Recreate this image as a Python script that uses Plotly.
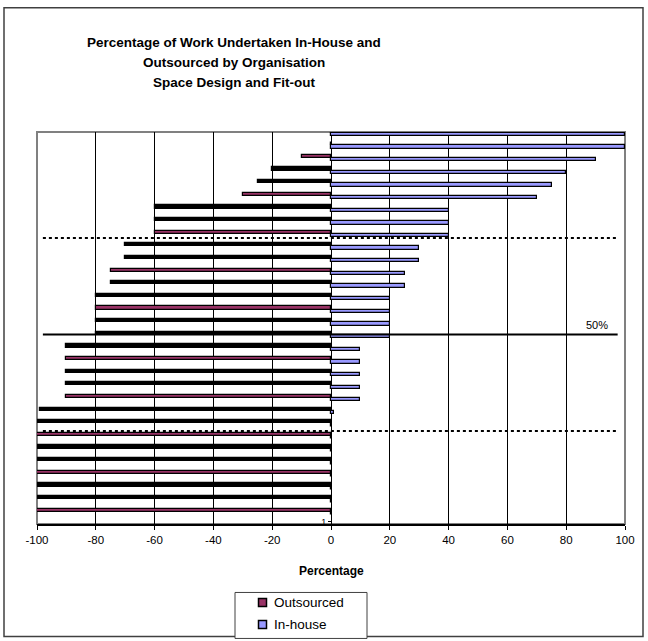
import plotly.graph_objects as go

# ---------------- data ----------------
# one row per organisation, top to bottom as drawn
inhouse_pct = [100, 100, 90, 80, 75, 70, 40, 40, 40, 30, 30, 25, 25, 20, 20, 20, 20,
               10, 10, 10, 10, 10, 1, 0, 0, 0, 0, 0, 0, 0, 0]
outsourced_pct = [0, 0, 10, 20, 25, 30, 60, 60, 60, 70, 70, 75, 75, 80, 80, 80, 80,
                  90, 90, 90, 90, 90, 99, 100, 100, 100, 100, 100, 100, 100, 100]
x_tick_values = [-100, -80, -60, -40, -20, 0, 20, 40, 60, 80, 100]
x_tick_labels = ['-100', '-80', '-60', '-40', '-20', '0', '20', '40', '60', '80', '100']
# reference lines (in category-axis units): upper quartile, median (50%), lower quartile
reference_levels = [22.81, 15.16, 7.53]
reference_label = '50%'
y_tick_label = '1'
series_names = ['Outsourced', 'In-house']

title_lines = ['Percentage of Work Undertaken In-House and',
               'Outsourced by Organisation',
               'Space Design and Fit-out']

# ---------------- styling ----------------
FONT = 'Arial, Liberation Sans, sans-serif'
MAROON, LILAC = '#993366', '#9999FF'
W_PX, H_PX = 648, 641
L, R_EDGE, T, B_EDGE = 37, 625, 132.3, 524.5
PW, PH = R_EDGE - L, B_EDGE - T

def px_x(px):
    return (px - L) / PW

def px_y(py):
    return (B_EDGE - py) / PH

n = len(inhouse_pct)
positions = [n - i for i in range(n)]  # top row -> n, bottom row -> 1
# visible fill of outsourced bars (thin bars mostly render black in the source)
maroon_rows = {2, 5, 8, 11, 14, 18, 21, 24, 27, 30}
outsourced_fill = [MAROON if i in maroon_rows else '#000000' for i in range(n)]

fig = go.Figure()
fig.add_trace(go.Bar(
    name=series_names[0], orientation='h',
    x=[-v for v in outsourced_pct], y=positions,
    width=0.25, offset=0.135,
    marker=dict(color=outsourced_fill, line=dict(color='black', width=1.2)),
))
fig.add_trace(go.Bar(
    name=series_names[1], orientation='h',
    x=inhouse_pct, y=positions,
    width=0.26, offset=-0.13,
    marker=dict(color=LILAC, line=dict(color='black', width=1.2)),
))

shapes = []
# reference lines
for lvl, dash in zip(reference_levels, ['dot', 'solid', 'dot']):
    shapes.append(dict(type='line', xref='x', yref='y', x0=-98, x1=97.5, y0=lvl, y1=lvl,
                       line=dict(color='black', width=2, dash=dash), layer='above'))
# plot area frame (grey)
shapes.append(dict(type='rect', xref='paper', yref='paper', x0=0, x1=1, y0=0, y1=1,
                   line=dict(color='#808080', width=2), layer='below'))
# outer chart frame
shapes.append(dict(type='rect', xref='paper', yref='paper',
                   x0=px_x(4), x1=px_x(643), y0=px_y(637), y1=px_y(8),
                   line=dict(color='#404040', width=1.5), layer='below'))
# legend box and swatches (drawn manually so the legend does not push the plot area)
shapes.append(dict(type='rect', xref='paper', yref='paper',
                   x0=px_x(235), x1=px_x(367), y0=px_y(639), y1=px_y(593),
                   line=dict(color='#404040', width=1), fillcolor='white', layer='below'))
legend_rows_px = [603, 625]
for yc, col in zip(legend_rows_px, [MAROON, LILAC]):
    shapes.append(dict(type='rect', xref='paper', yref='paper',
                       x0=px_x(258.5), x1=px_x(266.5), y0=px_y(yc + 4), y1=px_y(yc - 4),
                       line=dict(color='black', width=1.5), fillcolor=col))

annotations = []
for i, line in enumerate(title_lines):
    annotations.append(dict(text='<b>' + line + '</b>', xref='paper', yref='paper',
                            x=px_x(234), y=px_y(43 + 20 * i), xanchor='center', yanchor='middle',
                            showarrow=False, font=dict(family=FONT, size=13.5, color='black')))
annotations.append(dict(text='<b>Percentage</b>', xref='paper', yref='paper',
                        x=0.5, y=px_y(572), xanchor='center', yanchor='middle', showarrow=False,
                        font=dict(family=FONT, size=12, color='black')))
annotations.append(dict(text=reference_label, xref='x', yref='y', x=95, y=reference_levels[1] + 0.75,
                        xanchor='right', yanchor='middle', showarrow=False,
                        font=dict(family=FONT, size=11, color='black')))
for yc, name in zip(legend_rows_px, series_names):
    annotations.append(dict(text=name, xref='paper', yref='paper',
                            x=px_x(272), y=px_y(yc), xanchor='left', yanchor='middle',
                            showarrow=False, font=dict(family=FONT, size=13.5, color='black')))

fig.update_layout(
    width=W_PX, height=H_PX,
    margin=dict(l=L, r=W_PX - R_EDGE, t=T, b=H_PX - B_EDGE, pad=0, autoexpand=False),
    paper_bgcolor='white', plot_bgcolor='white',
    barmode='overlay', bargap=0,
    font=dict(family=FONT, size=11, color='black'),
    xaxis=dict(range=[-100, 100], tickvals=x_tick_values, ticktext=x_tick_labels,
               showgrid=True, gridcolor='black', gridwidth=1,
               zeroline=True, zerolinecolor='black', zerolinewidth=1,
               showline=True, linecolor='black', linewidth=1.5, mirror=False,
               ticks='outside', ticklen=4, tickcolor='black',
               tickfont=dict(family=FONT, size=11.5, color='black'), fixedrange=True),
    yaxis=dict(range=[0.17, n + 0.19], showgrid=False, zeroline=False, showline=False,
               tickvals=[0.35], ticktext=[y_tick_label], ticks='outside', ticklen=3,
               tickcolor='black', anchor='free', position=0.5,
               tickfont=dict(family=FONT, size=9, color='black'), fixedrange=True),
    shapes=shapes, annotations=annotations,
    showlegend=False,
)

fig.write_html('out.html')
